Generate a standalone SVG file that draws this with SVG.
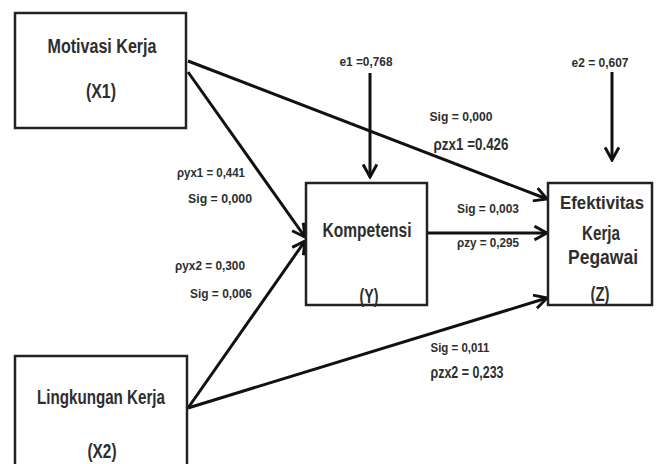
<svg xmlns="http://www.w3.org/2000/svg" width="657" height="464" viewBox="0 0 657 464">
<defs>
<marker id="arr" markerUnits="userSpaceOnUse" markerWidth="16" markerHeight="16" refX="12" refY="7" orient="auto" viewBox="0 0 14 14">
<path d="M1,1 L12,7 L1,13" fill="none" stroke="#111" stroke-width="2.6"/>
</marker>
<style>
.box{fill:#fff;stroke:#222;stroke-width:2.5}
.ln{stroke:#111;stroke-width:3;fill:none;marker-end:url(#arr)}
text{font-family:"Liberation Sans",Arial,sans-serif;font-weight:bold;fill:#2e2e2e;text-anchor:middle}
.big{font-size:20px}
.sm{font-size:13px}
.md{font-size:17px}
</style>
</defs>
<g id="connectors">
<line class="ln" x1="188" y1="61" x2="547" y2="199"/>
<line class="ln" x1="188" y1="72" x2="305" y2="237"/>
<line class="ln" x1="188" y1="408" x2="305" y2="241"/>
<line class="ln" x1="188" y1="408" x2="547" y2="298"/>
<line class="ln" x1="427" y1="233" x2="547" y2="233"/>
<line class="ln" x1="370" y1="73" x2="370" y2="177"/>
<line class="ln" x1="612" y1="72" x2="612" y2="160"/>
</g>
<g id="x1">
<rect class="box" x="15" y="13" width="171" height="115"/>
<text class="big" x="102" y="53" textLength="109" lengthAdjust="spacingAndGlyphs">Motivasi Kerja</text>
<text class="big" x="101" y="98" textLength="30" lengthAdjust="spacingAndGlyphs">(X1)</text>
</g>
<g id="x2">
<rect class="box" x="15" y="356" width="172" height="120"/>
<text class="big" x="101" y="404" textLength="128" lengthAdjust="spacingAndGlyphs">Lingkungan Kerja</text>
<text class="big" x="102" y="458" textLength="29" lengthAdjust="spacingAndGlyphs">(X2)</text>
</g>
<g id="y">
<rect class="box" x="306" y="183" width="121" height="122"/>
<text class="big" x="367" y="237" textLength="89" lengthAdjust="spacingAndGlyphs">Kompetensi</text>
<text class="big" x="369" y="303" textLength="19" lengthAdjust="spacingAndGlyphs">(Y)</text>
</g>
<g id="z">
<rect class="box" x="548" y="183" width="104" height="122"/>
<text x="602" y="209" font-size="18" textLength="84" lengthAdjust="spacingAndGlyphs">Efektivitas</text>
<text class="big" x="601" y="240" textLength="38" lengthAdjust="spacingAndGlyphs">Kerja</text>
<text class="big" x="603" y="264" textLength="70" lengthAdjust="spacingAndGlyphs">Pegawai</text>
<text class="big" x="600" y="301" textLength="19" lengthAdjust="spacingAndGlyphs">(Z)</text>
</g>
<g id="labels">
<text class="sm" x="366" y="66" textLength="53" lengthAdjust="spacingAndGlyphs">e1 =0,768</text>
<text class="sm" x="600" y="67" textLength="57" lengthAdjust="spacingAndGlyphs">e2 = 0,607</text>
<text class="sm" x="211" y="177" textLength="68" lengthAdjust="spacingAndGlyphs">ρyx1 = 0,441</text>
<text class="sm" x="220" y="203" textLength="64" lengthAdjust="spacingAndGlyphs">Sig = 0,000</text>
<text class="sm" x="210" y="270" textLength="70" lengthAdjust="spacingAndGlyphs">ρyx2 = 0,300</text>
<text class="sm" x="221" y="298" textLength="62" lengthAdjust="spacingAndGlyphs">Sig = 0,006</text>
<text class="sm" x="461" y="121" textLength="63" lengthAdjust="spacingAndGlyphs">Sig = 0,000</text>
<text class="md" x="471" y="150" textLength="75" lengthAdjust="spacingAndGlyphs">ρzx1 =0.426</text>
<text class="sm" x="488" y="213" textLength="62" lengthAdjust="spacingAndGlyphs">Sig = 0,003</text>
<text class="sm" x="488" y="247" textLength="62" lengthAdjust="spacingAndGlyphs">ρzy = 0,295</text>
<text class="sm" x="460" y="352" textLength="59" lengthAdjust="spacingAndGlyphs">Sig = 0,011</text>
<text class="md" x="467" y="378" textLength="73" lengthAdjust="spacingAndGlyphs">ρzx2 = 0,233</text>
</g>
</svg>
